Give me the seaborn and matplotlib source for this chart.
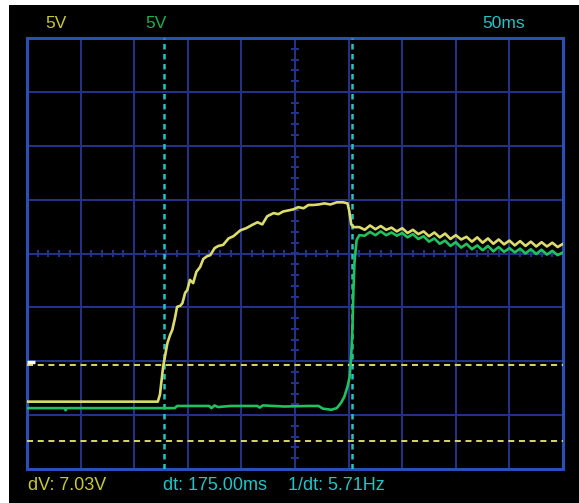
import numpy as np
import pandas as pd
import matplotlib.pyplot as plt
import seaborn as sns
from matplotlib.patches import Rectangle

# temps en ms (50 ms / division), tension en divisions (5 V / division)
t_ch1 = [0, 122, 124, 127, 129, 131, 133.5, 135.5, 138, 140, 143, 145, 147.5, 149.5, 152, 155, 158,
         161.5, 164.5, 168, 171, 175, 178.5, 183, 188, 192.5, 199, 204.5, 210, 215, 219.5, 224, 230,
         234.5, 239, 244, 248.5, 253, 258, 262.5, 267, 272, 277.5, 283, 289, 295, 299, 300.5, 302.5,
         304.5, 310, 315, 320, 325, 330, 335, 340, 345, 350, 355, 360, 365, 370, 375, 380, 385, 390,
         395, 400, 405, 410, 415, 420, 425, 430, 435, 440, 445, 450, 455, 460, 465, 470, 475, 480,
         485, 490, 495, 500]
v_ch1 = [-2.75, -2.75, -2.62, -2.10, -1.88, -1.66, -1.51, -1.42, -1.20, -0.99, -0.97, -0.92, -0.73,
         -0.68, -0.49, -0.55, -0.34, -0.25, -0.10, -0.05, -0.03, 0.10, 0.14, 0.16, 0.28, 0.32, 0.43,
         0.47, 0.53, 0.58, 0.54, 0.69, 0.75, 0.73, 0.78, 0.80, 0.82, 0.86, 0.84, 0.90, 0.90, 0.91,
         0.93, 0.91, 0.95, 0.95, 0.93, 0.80, 0.54, 0.49, 0.49, 0.44, 0.52, 0.45, 0.51, 0.44, 0.48,
         0.41, 0.47, 0.38, 0.44, 0.36, 0.41, 0.32, 0.39, 0.30, 0.37, 0.27, 0.34, 0.26, 0.31, 0.22,
         0.30, 0.20, 0.28, 0.18, 0.26, 0.17, 0.24, 0.15, 0.23, 0.14, 0.22, 0.13, 0.21, 0.13, 0.20,
         0.12, 0.18]

t_ch2 = [0, 35, 36, 37, 138, 140, 170, 172, 175, 178, 190, 215, 217, 220, 240, 262, 272, 276, 284,
         289, 293, 296, 299, 301, 302.5, 303.5, 304.5, 305.5, 307.5, 310, 315, 320, 325, 330, 335,
         340, 345, 350, 355, 360, 365, 370, 375, 380, 385, 390, 395, 400, 405, 410, 415, 420, 425,
         430, 435, 440, 445, 450, 455, 460, 465, 470, 475, 480, 485, 490, 495, 500]
v_ch2 = [-2.87, -2.87, -2.91, -2.87, -2.87, -2.83, -2.83, -2.87, -2.82, -2.85, -2.83, -2.83, -2.86,
         -2.82, -2.84, -2.83, -2.83, -2.88, -2.90, -2.87, -2.77, -2.66, -2.47, -2.29, -1.88, -1.42,
         -0.68, -0.16, 0.25, 0.34, 0.33, 0.40, 0.34, 0.41, 0.34, 0.39, 0.33, 0.38, 0.30, 0.36, 0.27,
         0.32, 0.22, 0.28, 0.18, 0.24, 0.14, 0.21, 0.11, 0.18, 0.08, 0.15, 0.06, 0.14, 0.04, 0.12,
         0.03, 0.10, 0.02, 0.09, 0.00, 0.08, -0.01, 0.07, -0.02, 0.05, -0.03, 0.02]

cursor_t = [128, 303]        # curseurs verticaux (ms)
cursor_v = [-2.07, -3.48]    # curseurs horizontaux (div)
ground_ch1 = -2.01           # repere de masse a gauche

top_labels = ['5V', '5V', '50ms']
bottom_labels = ['dV: 7.03V', 'dt: 175.00ms', '1/dt: 5.71Hz']

yellow = '#dcdc6c'
green = '#1fc25e'
cyan = '#22c4c8'
navy = '#24338a'
border = '#2a50b8'

sns.set_style('dark', {'axes.facecolor': 'black', 'figure.facecolor': 'white'})
plt.rcParams['font.family'] = ['Liberation Sans', 'DejaVu Sans']

W, H = 579, 503
fig = plt.figure(figsize=(W / 100, H / 100), dpi=100)
fig.add_artist(Rectangle((9 / W, 0), 1, 1 - 5 / H, transform=fig.transFigure,
                         facecolor='black', edgecolor='none', zorder=-5))
ax = fig.add_axes([27 / W, 1 - 469 / H, 536 / W, 431 / H])

df = pd.DataFrame({
    't': t_ch1 + t_ch2,
    'v': v_ch1 + v_ch2,
    'ch': ['CH1'] * len(t_ch1) + ['CH2'] * len(t_ch2),
})
sns.lineplot(data=df, x='t', y='v', hue='ch', hue_order=['CH2', 'CH1'],
             palette={'CH1': yellow, 'CH2': green}, estimator=None, sort=False,
             lw=1.9, legend=False, ax=ax, zorder=4)

# grille 10 x 8
ax.set_xlim(0, 500)
ax.set_ylim(-4, 4)
ax.set_xticks(np.arange(0, 501, 50))
ax.set_yticks(np.arange(-4, 5, 1))
ax.grid(True, color=navy, lw=1.4)
ax.tick_params(length=0, labelbottom=False, labelleft=False)
ax.set_xlabel('')
ax.set_ylabel('')
for s in ax.spines.values():
    s.set_visible(True)
    s.set_color(border)
    s.set_linewidth(2.2)

# petites graduations sur les axes centraux
ax.vlines(np.arange(0, 501, 10), -0.07, 0.07, color=navy, lw=1.4, zorder=1)
ax.hlines(np.arange(-4, 4.01, 0.2), 246.5, 253.5, color=navy, lw=1.4, zorder=1)

for t in cursor_t:
    ax.axvline(t, color=cyan, lw=1.8, ls=(0, (2.2, 1.8)), zorder=3)
for v in cursor_v:
    ax.axhline(v, color='#d8d860', lw=1.4, ls=(0, (3.1, 2.4)), zorder=3)
ax.plot([0, 7], [ground_ch1, ground_ch1], color='white', lw=2.5, zorder=5, solid_capstyle='butt')

fs_top = 12.5
fig.text(45 / W, 1 - 23 / H, top_labels[0], color='#c8c832', fontsize=fs_top, va='center')
fig.text(145 / W, 1 - 23 / H, top_labels[1], color='#1fae4c', fontsize=fs_top, va='center')
fig.text(482 / W, 1 - 23 / H, top_labels[2], color=cyan, fontsize=fs_top, va='center')

fs_bot = 13
fig.text(28 / W, 1 - 486 / H, bottom_labels[0], color='#c8c832', fontsize=fs_bot, va='center')
fig.text(163 / W, 1 - 486 / H, bottom_labels[1], color=cyan, fontsize=fs_bot, va='center')
fig.text(288 / W, 1 - 486 / H, bottom_labels[2], color=cyan, fontsize=fs_bot, va='center')

fig.savefig('out.png', dpi=100)
